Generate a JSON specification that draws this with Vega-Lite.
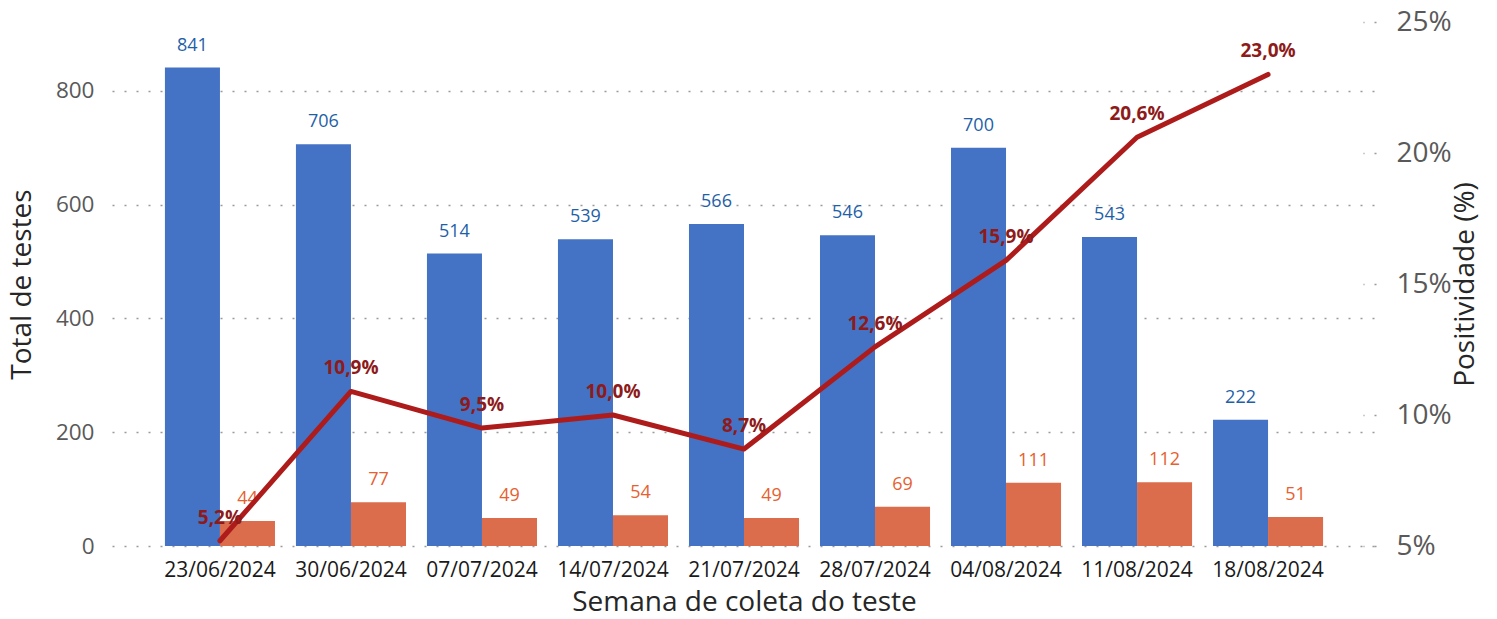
{
  "$schema": "https://vega.github.io/schema/vega-lite/v6.json",
  "width": 1264,
  "height": 524,
  "autosize": "none",
  "padding": {"left": 112, "top": 22, "right": 121, "bottom": 73},
  "config": {
    "locale": {"number": {"decimal": ",", "thousands": ".", "grouping": [3], "currency": ["R$", ""]}},
    "font": "Open Sans",
    "view": {"stroke": null},
    "axis": {"domain": false, "labelFont": "Open Sans", "titleFont": "Open Sans", "titleFontWeight": "normal"}
  },
  "data": {
    "values": [
      {"semana": "23/06/2024", "Total": 841, "Positivos": 44, "positividade": 0.052},
      {"semana": "30/06/2024", "Total": 706, "Positivos": 77, "positividade": 0.109},
      {"semana": "07/07/2024", "Total": 514, "Positivos": 49, "positividade": 0.095},
      {"semana": "14/07/2024", "Total": 539, "Positivos": 54, "positividade": 0.100},
      {"semana": "21/07/2024", "Total": 566, "Positivos": 49, "positividade": 0.087},
      {"semana": "28/07/2024", "Total": 546, "Positivos": 69, "positividade": 0.126},
      {"semana": "04/08/2024", "Total": 700, "Positivos": 111, "positividade": 0.159},
      {"semana": "11/08/2024", "Total": 543, "Positivos": 112, "positividade": 0.206},
      {"semana": "18/08/2024", "Total": 222, "Positivos": 51, "positividade": 0.230}
    ]
  },
  "encoding": {
    "x": {
      "field": "semana", "type": "nominal", "sort": null,
      "scale": {"paddingInner": 0.16, "paddingOuter": 0.404},
      "axis": {
        "title": "Semana de coleta do teste", "labelAngle": 0, "labelFontSize": 21,
        "labelColor": "#1a1a1a", "labelPadding": 13, "ticks": false,
        "titleFontSize": 28, "titleColor": "#262626", "titlePadding": 8
      }
    }
  },
  "layer": [
    {
      "transform": [{"fold": ["Total", "Positivos"], "as": ["serie", "valor"]}],
      "encoding": {
        "xOffset": {"field": "serie", "type": "nominal", "sort": ["Total", "Positivos"], "scale": {"paddingInner": 0, "paddingOuter": 0}},
        "y": {
          "field": "valor", "type": "quantitative",
          "scale": {"domain": [0, 921], "nice": false},
          "axis": {
            "title": "Total de testes", "values": [0, 200, 400, 600, 800],
            "labelFontSize": 22.5, "labelColor": "#595959", "labelPadding": 18, "ticks": false,
            "grid": true, "gridDash": [2, 10], "gridColor": "#9a9a9a", "gridWidth": 1.6,
            "titleFontSize": 28, "titleColor": "#262626", "titlePadding": 19
          }
        }
      },
      "layer": [
        {
          "mark": {"type": "bar"},
          "encoding": {
            "color": {"field": "serie", "type": "nominal", "scale": {"domain": ["Total", "Positivos"], "range": ["#4472C4", "#DB6C4C"]}, "legend": null}
          }
        },
        {
          "mark": {"type": "text", "baseline": "middle", "dy": -22, "fontSize": 18},
          "encoding": {
            "text": {"field": "valor", "type": "quantitative"},
            "color": {"condition": {"test": "datum.serie === 'Total'", "value": "#1F5FA8"}, "value": "#E6612F"}
          }
        }
      ]
    },
    {
      "encoding": {
        "y": {
          "field": "positividade", "type": "quantitative",
          "scale": {"domain": [0.05, 0.25], "nice": false, "zero": false},
          "axis": {
            "orient": "right", "title": "Positividade (%)", "format": ".0%",
            "values": [0.05, 0.10, 0.15, 0.20, 0.25],
            "labelFontSize": 28, "labelColor": "#595959", "labelPadding": 33,
            "ticks": true, "tickSize": -13, "tickDash": [2, 10], "tickColor": "#9a9a9a", "tickWidth": 1.6,
            "grid": false, "titleFontSize": 28, "titleColor": "#262626",
            "titleAngle": 270, "titleX": 89, "titleY": 262, "titleBaseline": "middle", "titleAlign": "center"
          }
        }
      },
      "layer": [
        {
          "mark": {"type": "line", "color": "#AE1B1B", "strokeWidth": 5, "strokeCap": "round", "strokeJoin": "round"}
        },
        {
          "mark": {"type": "text", "baseline": "middle", "dy": -23, "fontSize": 19, "fontWeight": "bold", "color": "#8E1A1A"},
          "encoding": {"text": {"field": "positividade", "type": "quantitative", "format": ".1%"}}
        }
      ]
    }
  ],
  "resolve": {"scale": {"y": "independent"}}
}
